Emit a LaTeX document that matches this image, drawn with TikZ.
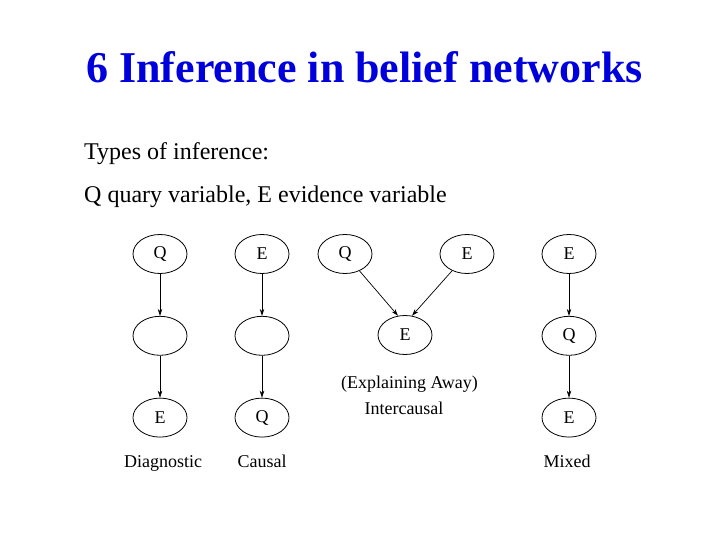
\documentclass[tikz,border=0pt]{standalone}
\usepackage{fontspec}
\setmainfont{Liberation Serif}
\usetikzlibrary{arrows.meta,positioning,shapes.geometric}
\definecolor{TitleBlue}{HTML}{0000DD}

\begin{document}
\begin{tikzpicture}[x=1pt,y=-1pt,
  var/.style={draw,ellipse,line width=0.8pt,minimum width=54pt,minimum height=39pt,inner sep=0pt,font=\fontsize{18}{18}\selectfont},
  link/.style={-{Stealth[length=7pt,width=4.5pt]},line width=0.7pt},
  kind/.style={anchor=base,inner sep=0pt,font=\fontsize{18}{18}\selectfont},
  bodytext/.style={anchor=base west,inner sep=0pt,font=\fontsize{24}{28}\selectfont},
]
\useasboundingbox (0,0) rectangle (720,540);
% heading
\node[anchor=base,inner sep=0pt,text=TitleBlue,font=\fontsize{44}{48}\selectfont\bfseries] (title) at (364.5,83) {6 Inference in belief networks};
\node[bodytext] (types) at (84,160) {Types of inference:};
\node[bodytext] (legend) at (84,203) {Q quary variable, E evidence variable};
% diagnostic
\node[var] (dq) at (160,254) {Q};
\node[var,below=42pt of dq] (dm) {};
\node[var,below=42pt of dm] (de) {E};
\draw[link] (dq) -- (dm);
\draw[link] (dm) -- (de);
% causal
\node[var] (ce) at (262,254) {E};
\node[var,below=42pt of ce] (cm) {};
\node[var,below=42pt of cm] (cq) {Q};
\draw[link] (ce) -- (cm);
\draw[link] (cm) -- (cq);
% intercausal
\node[var] (iq) at (345,254) {Q};
\node[var] (ie) at (467,254) {E};
\node[var] (ix) at (405,335) {E};
\draw[link] (iq) -- (ix.110);
\draw[link] (ie) -- (ix.70);
% mixed
\node[var] (me) at (569,254) {E};
\node[var,below=42pt of me] (mq) {Q};
\node[var,below=42pt of mq] (mx) {E};
\draw[link] (me) -- (mq);
\draw[link] (mq) -- (mx);
% kinds
\node[kind] (diag) at (163,467) {Diagnostic};
\node[kind] (caus) at (262,467) {Causal};
\node[kind] (away) at (409.5,388) {(Explaining Away)};
\node[kind] (inter) at (404,414) {Intercausal};
\node[kind] (mixd) at (567,467) {Mixed};
\end{tikzpicture}
\end{document}
